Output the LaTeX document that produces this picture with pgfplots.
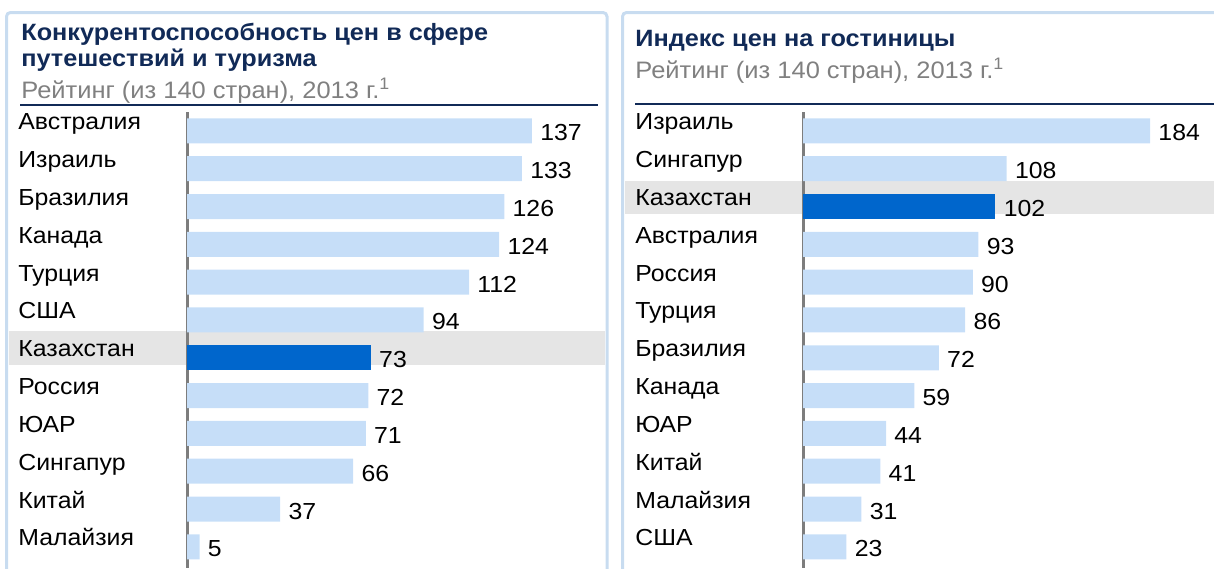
\documentclass[border=0pt]{standalone}
\usepackage{fontspec}
\setmainfont[FakeStretch=1.07]{Liberation Sans}
\usepackage{pgfplots}
\pgfplotsset{compat=1.18}
\definecolor{barlight}{RGB}{198,222,248}
\definecolor{bardark}{RGB}{0,102,204}
\definecolor{framec}{RGB}{200,220,240}
\definecolor{navy}{RGB}{17,42,87}
\definecolor{subgray}{RGB}{128,128,128}
\definecolor{bandc}{RGB}{229,229,229}
\definecolor{axisgray}{RGB}{125,125,125}
\newcommand{\lbl}{\fontsize{11.6}{13}\selectfont}
\newcommand{\ttl}{\fontsize{11.8}{13}\selectfont}
\newcommand{\sbt}{\fontsize{11.9}{13}\selectfont}
\pgfplotsset{
  panel/.style={
    xbar, scale only axis, anchor=north west,
    y dir=reverse, ymin=-0.5, ymax=11.56, xmin=0,
    height=228pt,
    bar width=12.5pt, bar shift=0pt,
    axis x line=none, axis y line*=left,
    y axis line style={axisgray, line width=1.5pt},
    ytick={0,...,11}, major tick length=0pt,
    yticklabel style={anchor=base west, inner sep=0pt, yshift=0.5pt, font=\lbl, text=black},
    nodes near coords,
    every node near coord/.append style={anchor=base west, inner sep=0pt, xshift=4pt, yshift=-5pt, font=\lbl, text=black},
    /pgf/number format/assume math mode=true,
    clip=false,
  }
}
\begin{document}
\begin{tikzpicture}[x=0.5pt,y=-0.5pt]
\useasboundingbox (0,0) rectangle (1214,568);
\coordinate (LA) at (187,112);
\coordinate (RA) at (803,112);
\begin{scope}
\clip (0,0) rectangle (1214,568);
\draw[framec, line width=1.5pt, rounded corners=2pt] (6.5,12.5) rectangle (607,640);
\draw[framec, line width=1.5pt, rounded corners=2pt] (622.5,12.5) rectangle (1290,640);
\fill[bandc] (9,331) rectangle (605,365);
\fill[bandc] (625,181) rectangle (1214,214);
\end{scope}
\node[anchor=base west, inner sep=0pt, text=navy, font=\ttl\bfseries] at (21,40) {Конкурентоспособность цен в сфере};
\node[anchor=base west, inner sep=0pt, text=navy, font=\ttl\bfseries] at (21,66) {путешествий и туризма};
\node[anchor=base west, inner sep=0pt, text=subgray, font=\sbt] at (21,98.5) {Рейтинг (из 140 стран), 2013 г.\textsuperscript{1}};
\node[anchor=base west, inner sep=0pt, text=navy, font=\ttl\bfseries] at (635,46.5) {Индекс цен на гостиницы};
\node[anchor=base west, inner sep=0pt, text=subgray, font=\sbt] at (635,78.5) {Рейтинг (из 140 стран), 2013 г.\textsuperscript{1}};
\draw[navy, line width=1pt] (20,104.5) -- (598,104.5);
\draw[navy, line width=1pt] (635,104) -- (1214,104);

\begin{axis}[panel, at={(LA)}, width=210.5pt, xmax=167.2,
  yticklabel style={xshift=-84.5pt},
  yticklabels={Австралия,Израиль,Бразилия,Канада,Турция,США,Казахстан,Россия,ЮАР,Сингапур,Китай,Малайзия}]
\addplot[fill=barlight, draw=none] coordinates {(137,0) (133,1) (126,2) (124,3) (112,4) (94,5) (72,7) (71,8) (66,9) (37,10) (5,11)};
\addplot[fill=bardark, draw=none] coordinates {(73,6)};
\end{axis}

\begin{axis}[panel, at={(RA)}, width=205.5pt, xmax=217.9,
  yticklabel style={xshift=-84pt},
  yticklabels={Израиль,Сингапур,Казахстан,Австралия,Россия,Турция,Бразилия,Канада,ЮАР,Китай,Малайзия,США}]
\addplot[fill=barlight, draw=none] coordinates {(184,0) (108,1) (93,3) (90,4) (86,5) (72,6) (59,7) (44,8) (41,9) (31,10) (23,11)};
\addplot[fill=bardark, draw=none] coordinates {(102,2)};
\end{axis}
\end{tikzpicture}
\end{document}
